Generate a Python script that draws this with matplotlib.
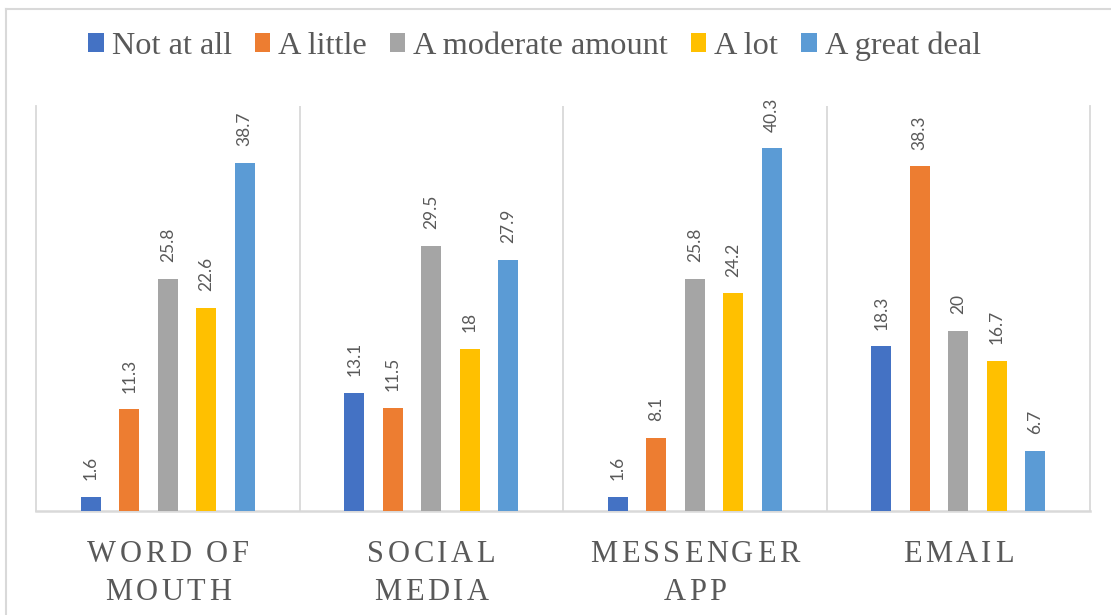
import matplotlib
matplotlib.use("Agg")
import matplotlib.pyplot as plt
from matplotlib.patches import Patch
from matplotlib.lines import Line2D
from matplotlib.font_manager import FontProperties

# Survey data: how much each channel is used
categories = [["WORD OF", "MOUTH"], ["SOCIAL", "MEDIA"], ["MESSENGER", "APP"], ["EMAIL"]]
series_names = ["Not at all", "A little", "A moderate amount", "A lot", "A great deal"]
not_at_all = [1.6, 13.1, 1.6, 18.3]
a_little = [11.3, 11.5, 8.1, 38.3]
moderate = [25.8, 29.5, 25.8, 20]
a_lot = [22.6, 18, 24.2, 16.7]
great_deal = [38.7, 27.9, 40.3, 6.7]

series_values = [not_at_all, a_little, moderate, a_lot, great_deal]
colors = ["#4472C4", "#ED7D31", "#A5A5A5", "#FFC000", "#5B9BD5"]
text_gray = "#595959"
line_gray = "#D9D9D9"

W, H = 1111, 615
fig = plt.figure(figsize=(W / 100, H / 100), dpi=100)
fig.patch.set_facecolor("white")

ax = fig.add_axes([36 / W, 1 - 511 / H, (1090 - 36) / W, (511 - 106) / H])
ax.set_xlim(0, len(categories))
ax.set_ylim(0, 45)

offsets = [-0.2922, -0.1461, 0.0, 0.1461, 0.2922]
bar_w = 0.077
centers = [i + 0.5 for i in range(len(categories))]

for vals, off, col in zip(series_values, offsets, colors):
    xs = [c + off for c in centers]
    ax.bar(xs, vals, width=bar_w, color=col, zorder=3)
    for x, v in zip(xs, vals):
        ax.annotate(f"{v:g}", (x, v), xytext=(0, 12), textcoords="offset points",
                    rotation=90, ha="center", va="bottom", fontsize=12.5,
                    family="Lato", color=text_gray)

# Category separators and plot frame
for xb in range(1, len(categories)):
    ax.axvline(xb, color=line_gray, lw=1.3, zorder=1)
for side in ["left", "right"]:
    ax.spines[side].set_color(line_gray)
    ax.spines[side].set_linewidth(1.3)
ax.spines["top"].set_visible(False)
ax.spines["bottom"].set_color(line_gray)
ax.spines["bottom"].set_linewidth(1.8)
ax.set_xticks([])
ax.set_yticks([])

# Outer chart border (top and left edges)
fig.add_artist(Line2D([6 / W, 6 / W], [0, 1 - 9 / H], color=line_gray, lw=1.5,
                      transform=fig.transFigure))
fig.add_artist(Line2D([6 / W, 1], [1 - 9 / H, 1 - 9 / H], color=line_gray, lw=1.5,
                      transform=fig.transFigure))

# Letter-spaced category labels
cat_font = FontProperties(family="Liberation Serif", size=22)
renderer = fig.canvas.get_renderer()
tracking = 3.5
baselines = [562, 600]


def char_width(ch):
    if ch == " ":
        w, _, _ = renderer.get_text_width_height_descent("a a", cat_font, ismath=False)
        w2, _, _ = renderer.get_text_width_height_descent("aa", cat_font, ismath=False)
        return w - w2
    w, _, _ = renderer.get_text_width_height_descent(ch, cat_font, ismath=False)
    return w


for c, lines in zip(centers, categories):
    cx = ax.transData.transform((c, 0))[0]
    for line, by in zip(lines, baselines):
        widths = [char_width(ch) for ch in line]
        total = sum(widths) + tracking * (len(line) - 1)
        x = cx - total / 2
        for ch, w in zip(line, widths):
            fig.text(x / W, 1 - by / H, ch, fontproperties=cat_font, color=text_gray,
                     ha="left", va="baseline")
            x += w + tracking

handles = [Patch(facecolor=col, edgecolor="none") for col in colors]
fig.legend(handles, series_names, loc="center", bbox_to_anchor=(534.5 / W, 1 - 46 / H),
           ncol=5, frameon=False, prop=FontProperties(family="Liberation Serif", size=23.2),
           labelcolor=text_gray, handlelength=0.47, handleheight=0.53,
           handletextpad=0.25, columnspacing=0.72, borderpad=0, borderaxespad=0)

fig.savefig("out.png", dpi=100, facecolor="white")
